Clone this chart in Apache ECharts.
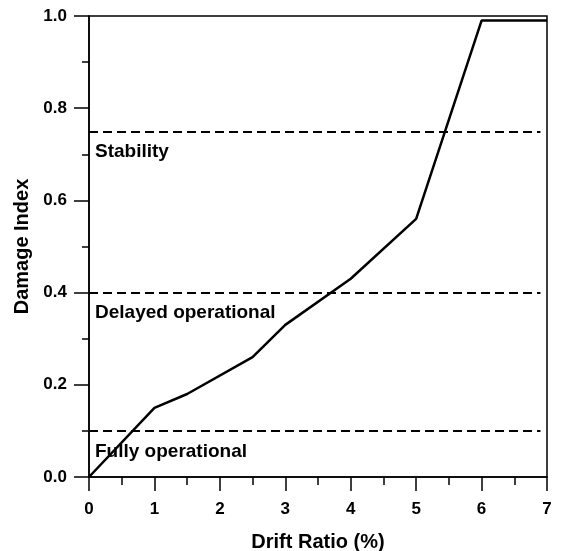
<!DOCTYPE html>
<html>
<head>
<meta charset="utf-8">
<script src="https://cdn.jsdelivr.net/npm/echarts@6/dist/echarts.min.js"></script>
<style>
html, body { margin: 0; padding: 0; background: #fff; }
#chart { width: 561px; height: 551px; }
</style>
</head>
<body>
<div id="chart"></div>
<script>
// drift ratio (%) vs damage index
var driftRatio = [0, 1, 1.5, 2.5, 3, 4, 5, 6, 7];
var damageIndex = [0, 0.15, 0.18, 0.26, 0.33, 0.43, 0.56, 0.99, 0.99];

// performance levels
var levelNames = ['Stability', 'Delayed operational', 'Fully operational'];
var levelValues = [0.75, 0.40, 0.10];
var levelEnd = 6.9;

var font = 'Liberation Sans, Arial, sans-serif';

var myChart = echarts.init(document.getElementById('chart'));

var lineData = [];
for (var i = 0; i < driftRatio.length; i++) {
	lineData.push([driftRatio[i], damageIndex[i]]);
}

var levelLines = [];
for (var j = 0; j < levelNames.length; j++) {
	levelLines.push([
		{ coord: [0, levelValues[j]], name: levelNames[j] },
		{ coord: [levelEnd, levelValues[j]] }
	]);
}

var option = {
	animation : false,
	backgroundColor : '#ffffff',
	grid : {
		left : 89,
		right : 14,
		top : 16,
		bottom : 74,
		outerBoundsMode : 'none',
		containLabel : false,
		show : true,
		borderColor : '#000',
		borderWidth : 1.5,
		backgroundColor : 'transparent'
	},
	xAxis : {
		type : 'value',
		min : 0,
		max : 7,
		interval : 1,
		name : 'Drift Ratio (%)',
		nameLocation : 'middle',
		nameGap : 55,
		nameTextStyle : { fontFamily : font, fontWeight : 'bold', fontSize : 20, color : '#000' },
		axisLine : { show : true, lineStyle : { color : '#000', width : 1.5 } },
		axisTick : { show : true, inside : false, length : 14, lineStyle : { color : '#000', width : 1.5 } },
		minorTick : { show : true, splitNumber : 2, length : 8, lineStyle : { color : '#000', width : 1.5 } },
		axisLabel : { fontFamily : font, fontWeight : 'bold', fontSize : 17, color : '#000', margin : 24 },
		splitLine : { show : false }
	},
	yAxis : {
		type : 'value',
		min : 0,
		max : 1,
		interval : 0.2,
		name : 'Damage Index',
		nameLocation : 'middle',
		nameGap : 56,
		nameTextStyle : { fontFamily : font, fontWeight : 'bold', fontSize : 20, color : '#000' },
		axisLine : { show : true, lineStyle : { color : '#000', width : 1.5 } },
		axisTick : { show : true, inside : false, length : 15, lineStyle : { color : '#000', width : 1.5 } },
		minorTick : { show : true, splitNumber : 2, length : 7, lineStyle : { color : '#000', width : 1.5 } },
		axisLabel : {
			fontFamily : font, fontWeight : 'bold', fontSize : 17, color : '#000', margin : 22,
			formatter : function(v) { return v.toFixed(1); }
		},
		splitLine : { show : false }
	},
	series : [ {
		type : 'line',
		data : lineData,
		symbol : 'none',
		lineStyle : { color : '#000', width : 2.5 },
		markLine : {
			silent : true,
			symbol : 'none',
			lineStyle : { color : '#000', width : 2, type : [9, 5] },
			label : {
				show : true,
				position : 'insideStartBottom',
				formatter : '{b}',
				fontFamily : font,
				fontWeight : 'bold',
				fontSize : 19,
				color : '#000',
				distance : [6, 11]
			},
			data : levelLines
		}
	} ]
};
myChart.setOption(option);
</script>
</body>
</html>
